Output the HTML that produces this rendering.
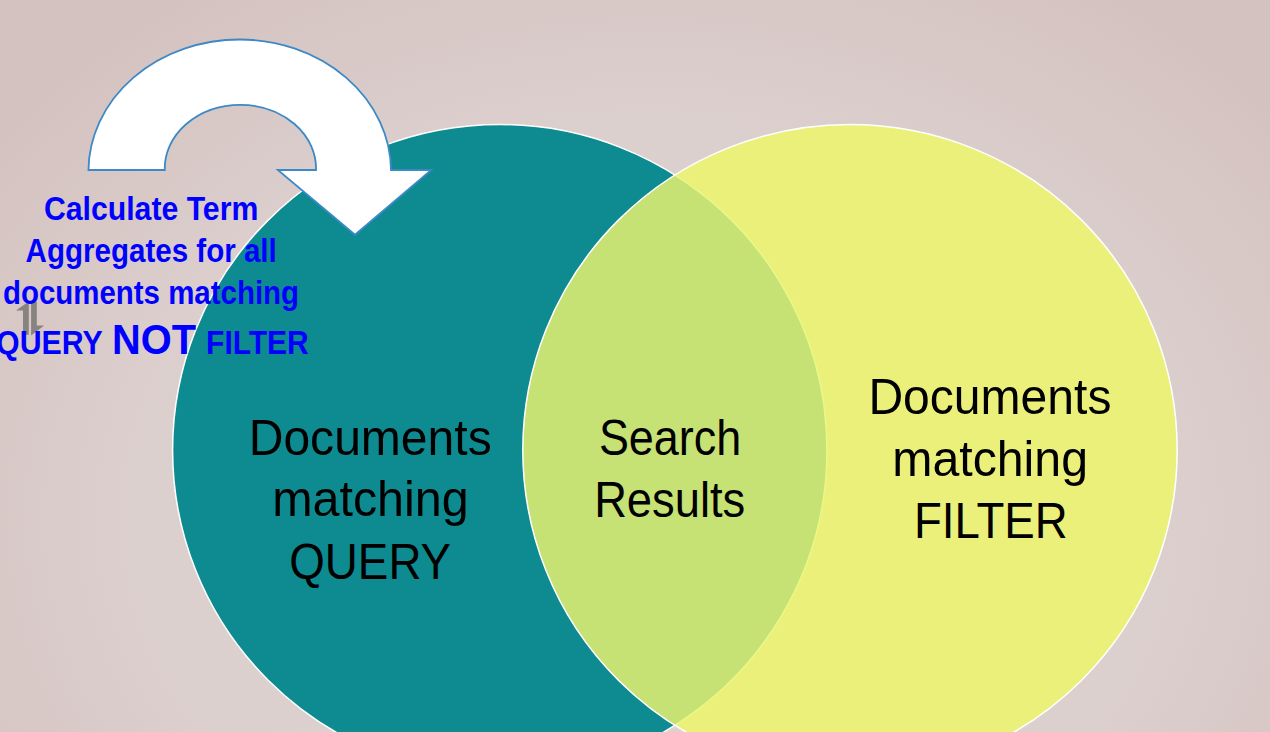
<!DOCTYPE html>
<html>
<head>
<meta charset="utf-8">
<style>
html,body{margin:0;padding:0;width:1270px;height:732px;overflow:hidden;}
body{background:radial-gradient(ellipse 820px 640px at 650px 520px,#dfd3d2 0%,#dcd0ce 60%,#d4c2c0 100%);}
svg{position:absolute;left:0;top:0;}
text{font-family:"Liberation Sans",sans-serif;}
</style>
</head>
<body>
<svg width="1270" height="732" viewBox="0 0 1270 732">
  <!-- teal circle -->
  <ellipse cx="499.8" cy="450.2" rx="327.2" ry="325.7" fill="#0e8a91" stroke="#ffffff" stroke-width="1.5"/>
  <!-- yellow circle -->
  <ellipse cx="850" cy="450.2" rx="327.2" ry="325.7" fill="#ebf07b"/>
  <!-- lens -->
  <path d="M674.9 175.1 A327.2 325.7 0 0 0 674.9 725.3 A327.2 325.7 0 0 0 674.9 175.1 Z" fill="#c6e174"/>
  <path d="M674.9 175.1 A327.2 325.7 0 0 1 674.9 725.3" fill="none" stroke="#e9f886" stroke-width="1.5"/>
  <ellipse cx="850" cy="450.2" rx="327.2" ry="325.7" fill="none" stroke="#ffffff" stroke-width="1.5"/>

  <!-- curved arrow -->
  <path d="M88.46 170 A151.3 132.0 0 0 1 391.04 170 L431.3 170 L355 234.7 L277.8 170 L316.02 170 A75.64 63.67 0 1 0 164.78 170 Z" fill="#ffffff" stroke="#3d89c8" stroke-width="1.8" stroke-linejoin="miter"/>

  <!-- grey half-arrows icon -->
  <path d="M16 310.5 L28.8 301.6 L28.8 334.8 L23 334.8 L23 310.5 Z" fill="#88837f"/>
  <path d="M31.1 301.6 L36.8 301.6 L36.8 325.5 L44.2 325.5 L31.1 335.6 Z" fill="#88837f"/>

  <!-- black labels -->
  <g fill="#000">
    <text x="0" y="455.2" font-size="49.5" transform="matrix(0.9706 0 0 1 248.72 0)">Documents</text>
    <text x="0" y="516.4" font-size="49.5" transform="matrix(0.9785 0 0 1 272.16 0)">matching</text>
    <text x="0" y="578.9" font-size="49.5" transform="matrix(0.9244 0 0 1 289.25 0)">QUERY</text>
    <text x="0" y="455.4" font-size="49.5" transform="matrix(0.9079 0 0 1 598.88 0)">Search</text>
    <text x="0" y="517.2" font-size="49.5" transform="matrix(0.9156 0 0 1 594.14 0)">Results</text>
    <text x="0" y="414.0" font-size="49.5" transform="matrix(0.971 0 0 1 868.42 0)">Documents</text>
    <text x="0" y="476.4" font-size="49.5" transform="matrix(0.9744 0 0 1 892.28 0)">matching</text>
    <text x="0" y="538.1" font-size="49.5" transform="matrix(0.9206 0 0 1 914.02 0)">FILTER</text>
  </g>

  <!-- blue note -->
  <g font-weight="700" fill="#0000ff">
    <text x="0" y="219.9" font-size="33.5" transform="matrix(0.9025 0 0 1 43.9 0)">Calculate Term</text>
    <text x="0" y="261.9" font-size="33.5" transform="matrix(0.8819 0 0 1 25.62 0)">Aggregates for all</text>
    <text x="0" y="303.8" font-size="33.5" transform="matrix(0.8794 0 0 1 2.92 0)">documents matching</text>
    <text x="0" y="353.7" font-size="33.5" transform="matrix(0.9052 0 0 1 -3.91 0)">QUERY</text>
    <text x="0" y="353.7" font-size="42" transform="matrix(0.9483 0 0 1 112.1 0)">NOT</text>
    <text x="0" y="353.7" font-size="33.5" transform="matrix(0.8929 0 0 1 206.11 0)">FILTER</text>
  </g>

  </svg>
</body>
</html>
